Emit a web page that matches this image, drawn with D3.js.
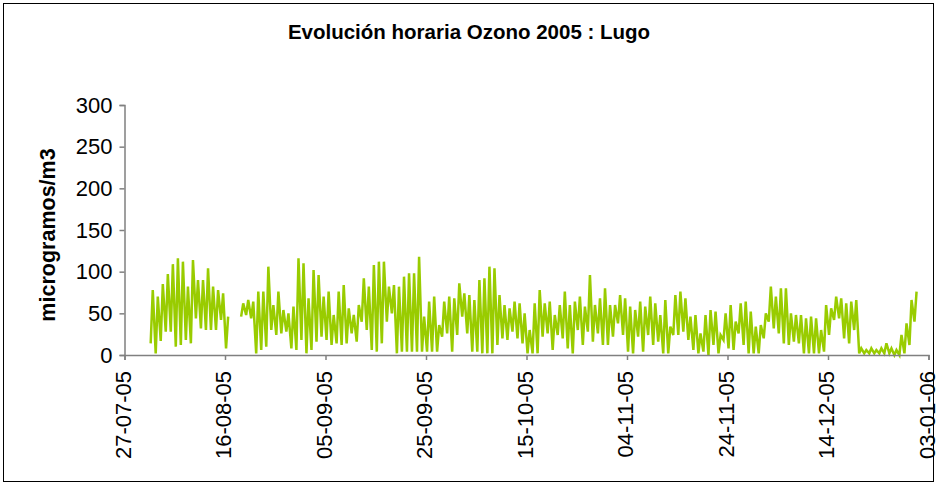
<!DOCTYPE html>
<html>
<head>
<meta charset="utf-8">
<script src="https://cdn.jsdelivr.net/npm/d3@7"></script>
<style>
  body { margin: 0; background: #fff; }
  text { font-family: "Liberation Sans", Arial, sans-serif; }
</style>
</head>
<body>
<svg id="chart" width="937" height="486"></svg>
<script>
// chart values (one high and one low per day)
var title = "Evolución horaria Ozono 2005 : Lugo";
var yLabel = "microgramos/m3";
var firstDay = "01-08-05";
var dailyHigh = [
    78, 70, 85, 97, 109, 116, 112, 82, 114, 90,
    90, 104, 82, 78, 74, 46, null, null, 62, 66,
    64, 76, 76, 106, 60, 76, 54, 50, 58, 116,
    110, 68, 102, 96, 70, 76, 48, 76, 84, 56,
    48, 60, 92, 82, 108, 112, 112, 82, 84, 82,
    94, 98, 98, 118, 46, 64, 70, 36, 64, 70,
    68, 86, 74, 72, 66, 90, 92, 106, 104, 72,
    60, 56, 64, 62, 50, 30, 62, 78, 62, 64,
    48, 60, 76, 60, 64, 70, 58, 96, 60, 68,
    80, 60, 60, 72, 68, 58, 54, 64, 58, 70,
    62, 48, 66, 34, 72, 76, 68, 46, 48, 26,
    48, 54, 52, 24, 50, 60, 40, 62, 64, 52,
    34, 36, 50, 82, 70, 80, 80, 50, 48, 48,
    44, 46, 44, 30, 60, 56, 70, 68, 62, 64,
    66, 8, 6, 8, 6, 8, 14, 8, 6, 24,
    38, 66, 76
];
var dailyLow = [
    14, 2, 17, 28, 28, 10, 12, 18, 14, 44,
    32, 30, 30, 30, 42, 8, null, null, 46, 48,
    44, 2, 6, 10, 30, 24, 26, 28, 8, 6,
    18, 2, 6, 16, 22, 18, 12, 14, 12, 14,
    26, 16, 40, 30, 6, 4, 14, 40, 50, 2,
    4, 4, 4, 4, 4, 4, 4, 4, 22, 26,
    4, 24, 46, 26, 4, 4, 2, 2, 2, 12,
    20, 18, 28, 20, 14, 2, 2, 2, 22, 26,
    6, 24, 20, 8, 2, 30, 12, 28, 16, 26,
    12, 12, 22, 38, 24, 4, 2, 22, 4, 24,
    12, 16, 2, 2, 24, 24, 28, 18, 6, 2,
    4, 0, 12, 2, 18, 8, 6, 26, 12, 2,
    2, 2, 20, 40, 32, 26, 14, 12, 16, 14,
    2, 2, 2, 2, 4, 24, 42, 44, 20, 14,
    30, 2, 2, 2, 2, 2, 2, 2, 0, 0,
    2, 12, 40
];
var yTicks = [0, 50, 100, 150, 200, 250, 300];
var xTickLabels = ["27-07-05", "16-08-05", "05-09-05", "25-09-05", "15-10-05",
                   "04-11-05", "24-11-05", "14-12-05", "03-01-06"];

var parse = d3.timeParse("%d-%m-%y");
var start = parse(firstDay);
var tickDates = xTickLabels.map(parse);

// low in the early morning, high in the afternoon
var points = [];
dailyHigh.forEach(function (hi, i) {
    var day = d3.timeDay.offset(start, i);
    points.push({ t: d3.timeHour.offset(day, 5), v: dailyLow[i] });
    points.push({ t: d3.timeHour.offset(day, 15), v: hi });
});

var svg = d3.select("#chart"),
    margin = { top: 105, right: 8.5, bottom: 131, left: 124.5 },
    width = +svg.attr("width") - margin.left - margin.right,
    height = +svg.attr("height") - margin.top - margin.bottom;

svg.append("rect")
    .attr("x", 3.5).attr("y", 3.5)
    .attr("width", 930).attr("height", 478)
    .attr("fill", "#fff").attr("stroke", "#000").attr("stroke-width", 1);

svg.append("text")
    .attr("x", 469).attr("y", 39)
    .attr("text-anchor", "middle")
    .attr("font-size", 20.5).attr("font-weight", "bold")
    .text(title);

var x = d3.scaleTime().domain([tickDates[0], tickDates[tickDates.length - 1]]).range([0, width]),
    y = d3.scaleLinear().domain([0, 300]).range([height, 0]);

var g = svg.append("g")
    .attr("transform", "translate(" + margin.left + "," + margin.top + ")");

var line = d3.line()
    .defined(function (d) { return d.v !== null; })
    .x(function (d) { return x(d.t); })
    .y(function (d) { return y(d.v); });

g.append("path")
    .datum(points)
    .attr("fill", "none")
    .attr("stroke", "#99cc00")
    .attr("stroke-width", 2.5)
    .attr("stroke-linejoin", "miter")
    .attr("d", line);

var yAxis = g.append("g")
    .attr("class", "axis axis--y")
    .call(d3.axisLeft(y).tickValues(yTicks).tickSize(5).tickPadding(7));

var xAxis = g.append("g")
    .attr("class", "axis axis--x")
    .attr("transform", "translate(0," + height + ")")
    .call(d3.axisBottom(x).tickValues(tickDates).tickSize(5)
        .tickFormat(function (d, i) { return xTickLabels[i]; }));

svg.selectAll(".axis path, .axis line").attr("stroke", "#808080").attr("stroke-width", 1.5);
svg.selectAll(".axis text")
    .attr("fill", "#000")
    .attr("font-size", 22)
    .attr("font-family", "'Liberation Sans', Arial, sans-serif");

xAxis.selectAll("text")
    .attr("text-anchor", "end")
    .attr("dy", null)
    .attr("y", 0)
    .attr("transform", "translate(5.5,16) rotate(-90)");

svg.append("text")
    .attr("transform", "translate(55,235) rotate(-90)")
    .attr("text-anchor", "middle")
    .attr("font-size", 21.5).attr("font-weight", "bold")
    .text(yLabel);
</script>
</body>
</html>
